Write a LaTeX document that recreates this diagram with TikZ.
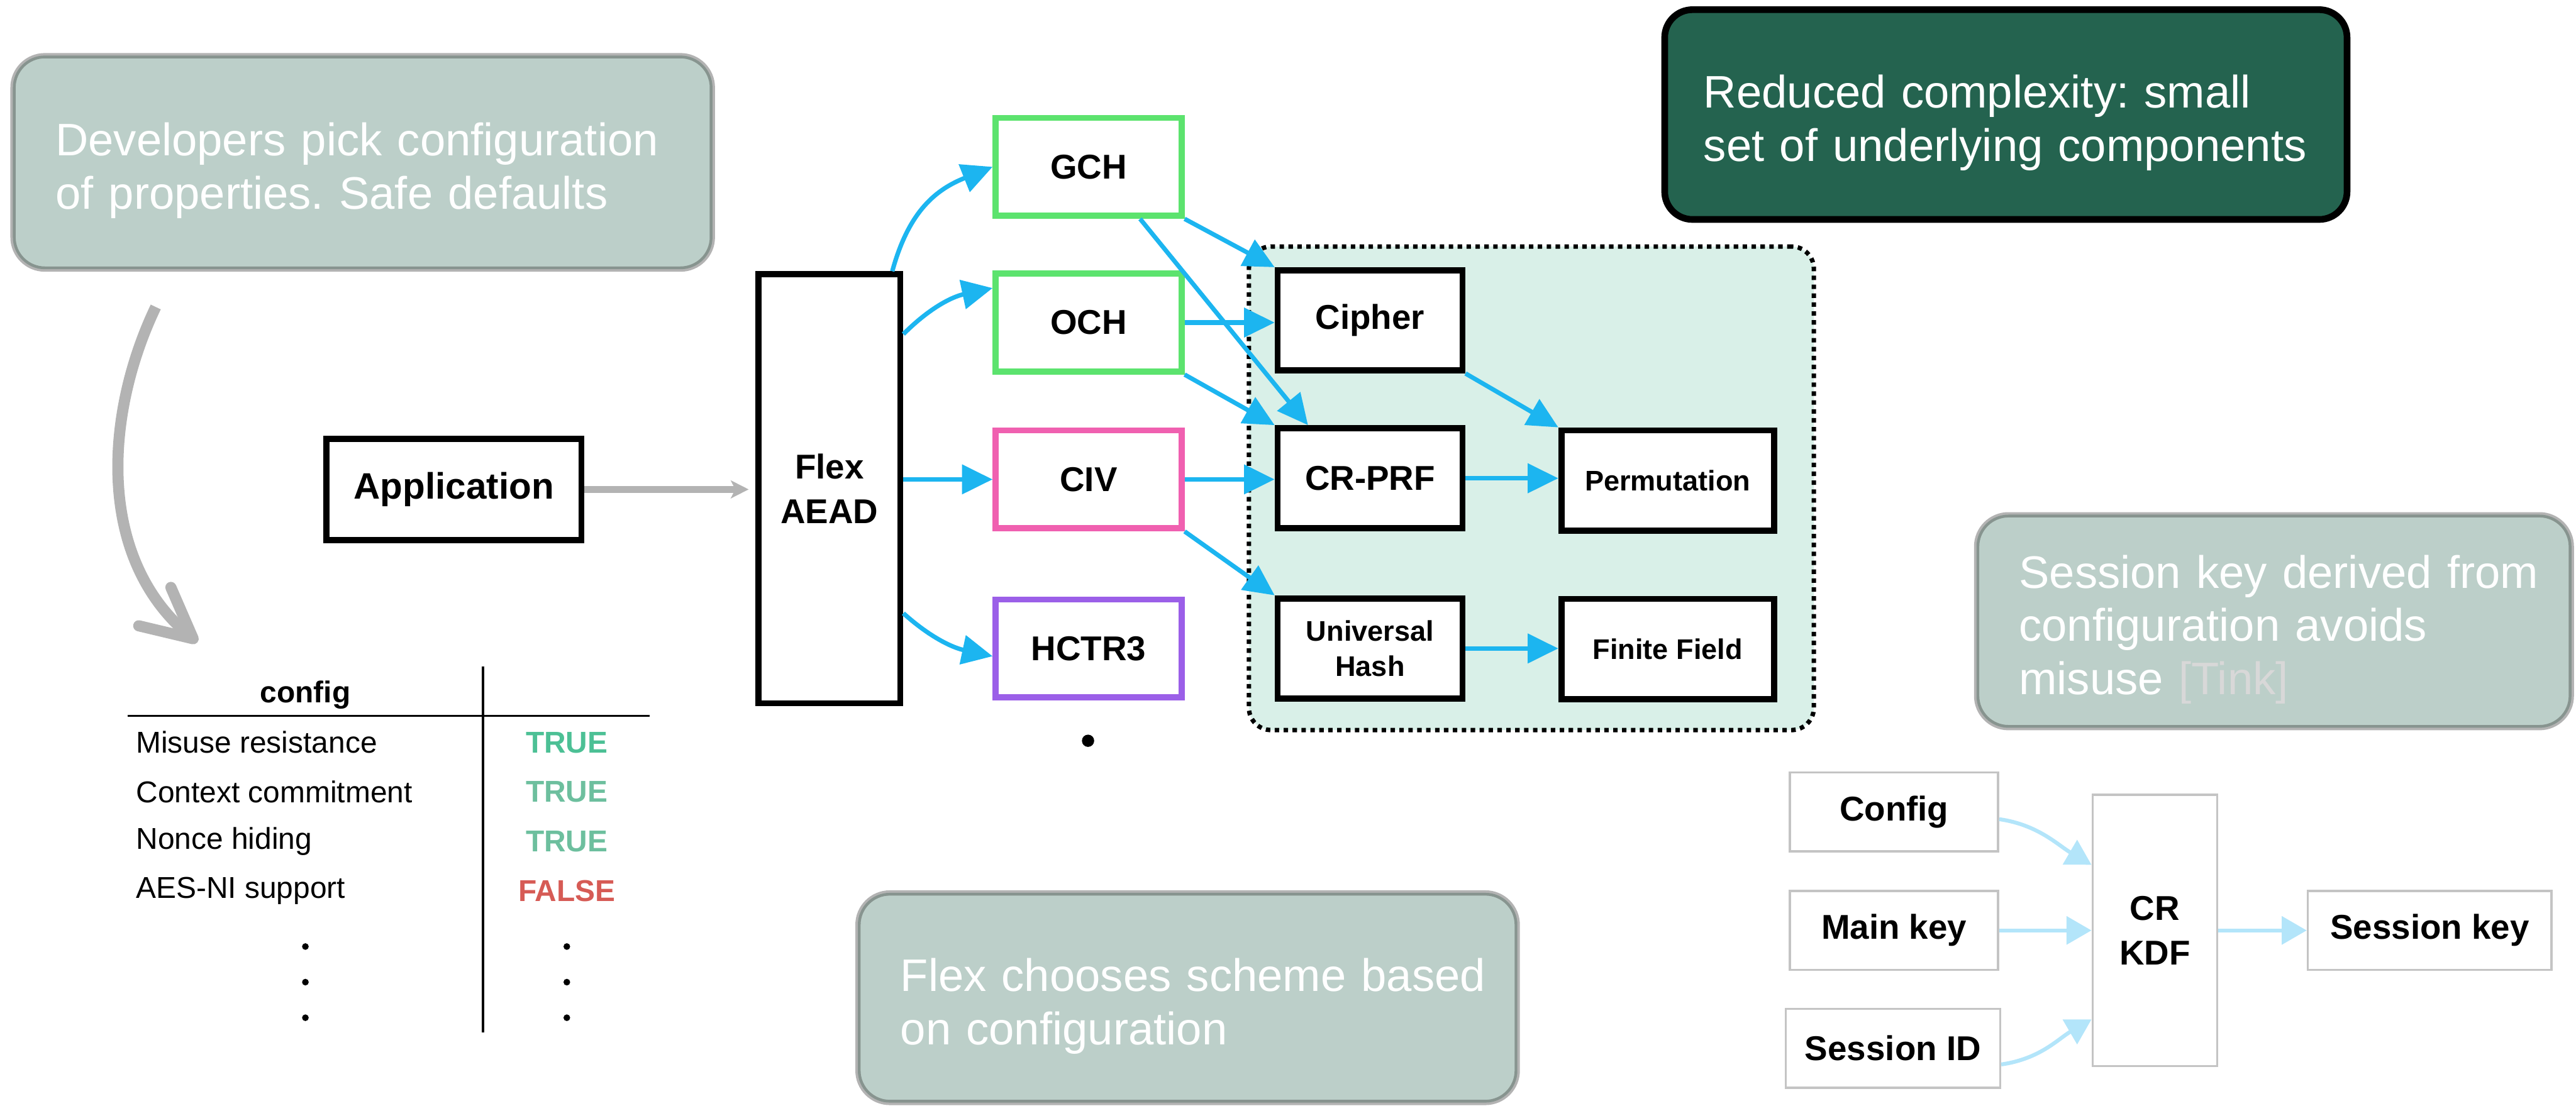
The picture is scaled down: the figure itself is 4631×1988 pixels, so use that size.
\documentclass[tikz,border=0pt]{standalone}
\usepackage{fontspec}
\setmainfont{Liberation Sans}
\usetikzlibrary{arrows.meta,calc}
\frenchspacing

\definecolor{calloutfill}{HTML}{BCCFC9}
\definecolor{calloutedge}{HTML}{87948F}
\definecolor{calloutrim}{HTML}{B3B3B3}
\definecolor{deepgreen}{HTML}{24634F}
\definecolor{mint}{HTML}{D9F0E8}
\definecolor{skyblue}{HTML}{1CB5F0}
\definecolor{paleblue}{HTML}{B3E5FA}
\definecolor{schemegreen}{HTML}{5CE36E}
\definecolor{schemepink}{HTML}{F060B0}
\definecolor{schemepurple}{HTML}{9B5FE8}
\definecolor{truegreen}{HTML}{4CC095}
\definecolor{truegreenb}{HTML}{6DBF9E}
\definecolor{falsered}{HTML}{D65B55}
\definecolor{tinkgray}{HTML}{D8D8D8}
\definecolor{arrowgray}{HTML}{B3B3B3}
\definecolor{boxgray}{HTML}{C4C4C4}

\newcommand\calloutfont{\fontsize{23.3}{27.3}\selectfont}
\newcommand\bigboxfont{\bfseries\fontsize{17.6}{22.8}\selectfont}
\newcommand\smallboxfont{\bfseries\fontsize{14.5}{18.2}\selectfont}
\newcommand\tablefont{\fontsize{15.4}{18}\selectfont}
% extra height on a callout's first line sets its text a little lower
\newcommand\lifttext{\rule{0pt}{25.4pt}}

\begin{document}
\begin{tikzpicture}[x=0.01cm,y=-0.01cm,
  callout/.style={rounded corners=0.55cm, fill=calloutfill, draw=calloutedge,
    line width=0.05cm, preaction={draw=calloutrim, line width=0.14cm},
    text=white, font=\calloutfont, align=left, inner xsep=0.74cm, inner ysep=0pt},
  darkcallout/.style={rounded corners=0.5cm, fill=deepgreen, draw=black,
    line width=0.12cm, text=white, font=\calloutfont, align=left,
    inner xsep=0.7cm, inner ysep=0pt},
  sketchbox/.style={draw=black, line width=0.11cm, fill=white, align=center,
    inner sep=0pt, font=\bigboxfont},
  schemebox/.style={sketchbox, minimum width=3.34cm, minimum height=1.76cm},
  primbox/.style={sketchbox, minimum width=3.32cm, minimum height=1.8cm},
  widebox/.style={sketchbox, minimum width=3.82cm, minimum height=1.8cm, font=\smallboxfont},
  kdfbox/.style={draw=boxgray, line width=0.04cm, fill=white, align=center,
    inner sep=0pt, font=\bigboxfont, minimum height=1.42cm},
  groupbox/.style={draw=black, fill=mint, line width=0.08cm, rounded corners=0.4cm,
    dash pattern=on 0.08cm off 0.08cm},
  bluearrow/.style={draw=skyblue, line width=0.08cm,
    -{Triangle[length=0.55cm,width=0.52cm]}},
  palearrow/.style={draw=paleblue, line width=0.07cm,
    -{Triangle[length=0.45cm,width=0.5cm]}},
  grayarrow/.style={draw=arrowgray, line width=0.12cm,
    -{Stealth[length=0.32cm,width=0.32cm,inset=0.08cm]}},
  bigarrow/.style={draw=arrowgray, line width=0.2cm,
    -{Straight Barb[length=0.9cm,width=0.9cm,round]}},
  tabtext/.style={font=\tablefont, inner sep=0pt, anchor=west},
  tabvalue/.style={font=\tablefont\bfseries, inner sep=0pt},
  tabline/.style={draw=black, line width=0.04cm},
  dotmark/.style={circle, fill=black, inner sep=0pt, minimum size=0.12cm}
]
\useasboundingbox (0,0) rectangle (4631,1988);

% ---- explanatory callouts ----
\node[callout, minimum width=12.52cm, minimum height=3.79cm, text width=11.04cm]
  (devnote) at (652,292) {\lifttext\mbox{Developers pick configuration}\\\mbox{of properties. Safe defaults}};
\node[darkcallout, minimum width=12.26cm, minimum height=3.77cm, text width=10.86cm]
  (reduced) at (3606,206) {\lifttext\mbox{Reduced complexity: small}\\\mbox{set of underlying components}};
\node[callout, minimum width=10.64cm, minimum height=3.78cm, text width=9.16cm]
  (sessnote) at (4088,1117) {\lifttext\mbox{Session key derived from}\\\mbox{configuration avoids}\\\mbox{misuse {\color{tinkgray}[Tink]}}};
\node[callout, minimum width=11.8cm, minimum height=3.72cm, text width=10.32cm]
  (flexnote) at (2135,1794) {\lifttext\mbox{Flex chooses scheme based}\\\mbox{on configuration}};

% ---- curved pointer down to the configuration table ----
\coordinate (pickstart) at (280,552);
\coordinate (pickend) at (355,1155);
\draw[bigarrow] (pickstart) .. controls (190,740) and (170,1000) .. (pickend);

% ---- configuration table ----
\node[tabvalue] (hdr) at (549,1249) {config};
\draw[tabline] (229,1287) -- (1168,1287);
\draw[tabline] (868,1198) -- (868,1857);
\node[tabtext] (r1) at (244,1335) {Misuse resistance};
\node[tabtext] (r2) at (244,1424) {Context commitment};
\node[tabtext] (r3) at (244,1513) {Nonce hiding};
\node[tabtext] (r4) at (244,1602) {AES-NI support};
\node[tabvalue, text=truegreen] (v1) at (1019,1335) {TRUE};
\node[tabvalue, text=truegreenb] (v2) at (1019,1424) {TRUE};
\node[tabvalue, text=truegreenb] (v3) at (1019,1513) {TRUE};
\node[tabvalue, text=falsered] (v4) at (1019,1602) {FALSE};
\foreach \yy [count=\i] in {1702,1766,1830} {
  \node[dotmark] (ldot\i) at (549,\yy) {};
  \node[dotmark] (rdot\i) at (1019,\yy) {};
}

% ---- application and Flex AEAD ----
\node[sketchbox, minimum width=4.58cm, minimum height=1.82cm, font=\bfseries\fontsize{18.8}{22}\selectfont]
  (app) at (816,880) {Application};
\node[sketchbox, minimum width=2.55cm, minimum height=7.71cm] (flex) at (1491,879) {Flex\\AEAD};
\draw[grayarrow, shorten >=0.12cm] (app.east) -- (app.east -| flex.west);

% ---- primitive group (drawn behind its boxes) ----
\node[groupbox, minimum width=10.15cm, minimum height=8.69cm] (prims) at (2753,878) {};

% ---- schemes ----
\node[schemebox, draw=schemegreen] (gch) at (1957,300) {GCH};
\node[schemebox, draw=schemegreen] (och) at (1957,580) {OCH};
\node[schemebox, draw=schemepink] (civ) at (1957,862) {CIV};
\node[schemebox, draw=schemepurple] (hctr) at (1957,1166) {HCTR3};
\node[dotmark, minimum size=0.22cm] (more) at (1956,1332) {};

% ---- primitives ----
\node[primbox] (cipher) at (2463,576) {Cipher};
\node[primbox] (crprf) at (2463,860) {CR-PRF};
\node[primbox, font=\smallboxfont] (uh) at (2463,1166) {Universal\\Hash};
\node[widebox] (perm) at (2998,864) {Permutation};
\node[widebox] (ff) at (2998,1167) {Finite Field};

% ---- Flex AEAD to schemes ----
\draw[bluearrow] ($(flex.north east)+(-20,0)$) .. controls +(30,-110) and +(-100,40) .. (gch.west);
\draw[bluearrow] ($(flex.north east)+(0,113)$) .. controls +(50,-50) and +(-70,15) .. ($(och.west)+(0,-62)$);
\draw[bluearrow] (flex.east |- civ.west) -- (civ.west);
\draw[bluearrow] ($(flex.north east)+(0,615)$) .. controls +(50,45) and +(-70,-15) .. ($(hctr.west)+(0,14)$);

% ---- schemes to primitives ----
\draw[bluearrow] (gch.south east) -- (cipher.north west);
\draw[bluearrow] ($(gch.south east)+(-80,0)$) -- ($(crprf.north west)+(60,0)$);
\draw[bluearrow] (och.east) -- (och.east -| cipher.west);
\draw[bluearrow] (och.south east) -- (crprf.north west);
\draw[bluearrow] (civ.east) -- (civ.east -| crprf.west);
\draw[bluearrow] (civ.south east) -- (uh.north west);
\draw[bluearrow] (cipher.south east) -- (perm.north west);
\draw[bluearrow] (crprf.east) -- (crprf.east -| perm.west);
\draw[bluearrow] (uh.east) -- (uh.east -| ff.west);

% ---- session key derivation ----
\node[kdfbox, minimum width=3.74cm] (cfg) at (3405,1460) {Config};
\node[kdfbox, minimum width=3.74cm] (mk) at (3405,1673) {Main key};
\node[kdfbox, minimum width=3.85cm] (sid) at (3403,1885) {Session ID};
\node[kdfbox, minimum width=2.24cm, minimum height=4.88cm] (kdf) at (3874,1673) {CR\\KDF};
\node[kdfbox, minimum width=4.38cm] (sk) at (4368,1673) {Session key};
\draw[palearrow] ($(cfg.east)+(0,13)$) .. controls +(70,10) and +(-60,-35) .. ($(kdf.west)+(0,-118)$);
\draw[palearrow] (mk.east) -- (mk.east -| kdf.west);
\draw[palearrow] ($(sid.east)+(0,29)$) .. controls +(70,-10) and +(-60,35) .. ($(kdf.west)+(0,160)$);
\draw[palearrow] (kdf.east) -- (kdf.east -| sk.west);
\end{tikzpicture}
\end{document}
